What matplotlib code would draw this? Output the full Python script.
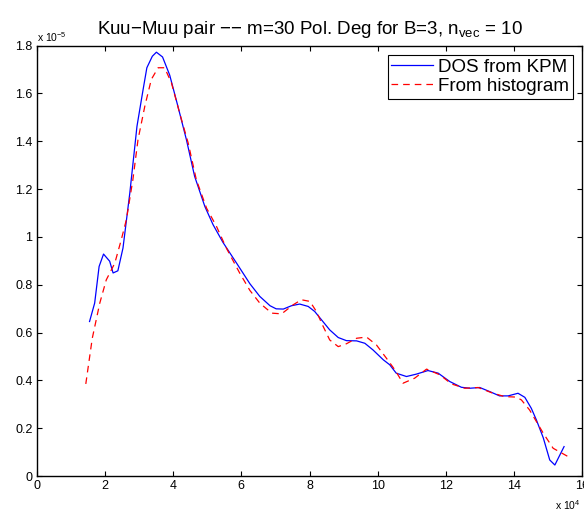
import matplotlib
matplotlib.use('Agg')
import matplotlib.pyplot as plt

# DOS from KPM (x in units of 1e4, y in units of 1e-5)
kpm_x = [1.55, 1.70, 1.83, 1.96, 2.14, 2.24, 2.38, 2.53, 2.73, 2.94, 3.12, 3.23,
         3.39, 3.51, 3.69, 3.90, 4.14, 4.39, 4.63, 4.93, 5.17, 5.46, 5.86,
         6.25, 6.54, 6.84, 7.02, 7.23, 7.47, 7.71, 7.96, 8.15, 8.35, 8.59, 8.84,
         9.08, 9.38, 9.62, 9.86, 10.16, 10.35, 10.54, 10.84, 11.13, 11.47, 11.77,
         12.11, 12.45, 12.70, 12.99, 13.28, 13.57, 13.82, 14.11, 14.31, 14.50,
         14.65, 14.85, 15.04, 15.19, 15.46]
kpm_y = [0.646, 0.723, 0.876, 0.928, 0.898, 0.849, 0.858, 0.953, 1.183, 1.462,
         1.616, 1.707, 1.755, 1.772, 1.752, 1.676, 1.546, 1.406, 1.253, 1.127,
         1.051, 0.977, 0.890,
         0.804, 0.751, 0.712, 0.699, 0.698, 0.712, 0.719, 0.709, 0.688, 0.653,
         0.611, 0.579, 0.566, 0.565, 0.555, 0.527, 0.486, 0.465, 0.430, 0.416,
         0.426, 0.441, 0.430, 0.395, 0.371, 0.367, 0.370, 0.353, 0.335, 0.335,
         0.346, 0.329, 0.283, 0.234, 0.160, 0.067, 0.046, 0.123]

# From histogram
hist_x = [1.44, 1.63, 1.85, 2.04, 2.29, 2.48, 2.63, 2.82, 2.97, 3.17, 3.36, 3.56,
          3.75, 3.95, 4.19, 4.44, 4.68, 4.98, 5.27, 5.56, 5.95,
          6.25, 6.54, 6.89, 7.18, 7.52, 7.76, 8.01, 8.20, 8.40, 8.59, 8.84, 9.08,
          9.38, 9.67, 9.96, 10.25, 10.50, 10.74, 11.08, 11.43, 11.82, 12.16,
          12.55, 12.94, 13.38, 13.72, 14.06, 14.21, 14.45, 14.85, 15.14, 15.58]
hist_y = [0.385, 0.576, 0.723, 0.820, 0.890, 0.988, 1.072, 1.239, 1.406, 1.546,
          1.658, 1.707, 1.707, 1.644, 1.518, 1.393, 1.239, 1.120, 1.044, 0.953,
          0.849,
          0.776, 0.723, 0.681, 0.678, 0.716, 0.737, 0.730, 0.688, 0.625, 0.569,
          0.541, 0.553, 0.576, 0.581, 0.548, 0.493, 0.444, 0.388, 0.409, 0.447,
          0.423, 0.385, 0.367, 0.370, 0.346, 0.332, 0.330, 0.318, 0.276, 0.179,
          0.116, 0.081]

x_ticks = [0, 2, 4, 6, 8, 10, 12, 14, 16]
y_ticks = [0, 0.2, 0.4, 0.6, 0.8, 1, 1.2, 1.4, 1.6, 1.8]

plt.rcParams['font.family'] = ['Liberation Sans', 'DejaVu Sans']
plt.rcParams['mathtext.default'] = 'regular'

fig = plt.figure(figsize=(5.84, 5.13), dpi=100)
ax = fig.add_axes([0.0628, 0.0721, 0.9346, 0.8392])

ax.plot(kpm_x, kpm_y, color='#0000ff', lw=0.9, label='DOS from KPM')
ax.plot(hist_x, hist_y, color='#ff0000', lw=0.9, linestyle=(0, (5.3, 4)),
        label='From histogram')

ax.set_xlim(0, 16)
ax.set_ylim(0, 1.8)
ax.set_xticks(x_ticks)
ax.set_xticklabels(['%g' % t for t in x_ticks])
ax.set_yticks(y_ticks)
ax.set_yticklabels(['%g' % t for t in y_ticks])
ax.tick_params(direction='in', length=3.6, width=0.8, labelsize=9,
               top=True, right=True, pad=3)
for s in ax.spines.values():
    s.set_linewidth(1.0)

ax.set_title('Kuu\u2212Muu pair \u2212\u2212 m=30 Pol. Deg for B=3, $n_{vec}$ = 10',
             fontsize=13.5, pad=8)

leg = ax.legend(loc='upper right', fontsize=13.5, frameon=True, fancybox=False,
                edgecolor='black', framealpha=1, handlelength=2.2,
                handletextpad=0.3, borderpad=0.2, labelspacing=0.1,
                borderaxespad=0.5)
leg.get_frame().set_linewidth(0.8)

fig.text(0.0634, 0.928, 'x 10$^{-5}$', fontsize=7.5, va='center', ha='left')
fig.text(0.950, 0.016, 'x 10$^{4}$', fontsize=7.5, va='center', ha='left')

fig.savefig('out.png', dpi=100)
